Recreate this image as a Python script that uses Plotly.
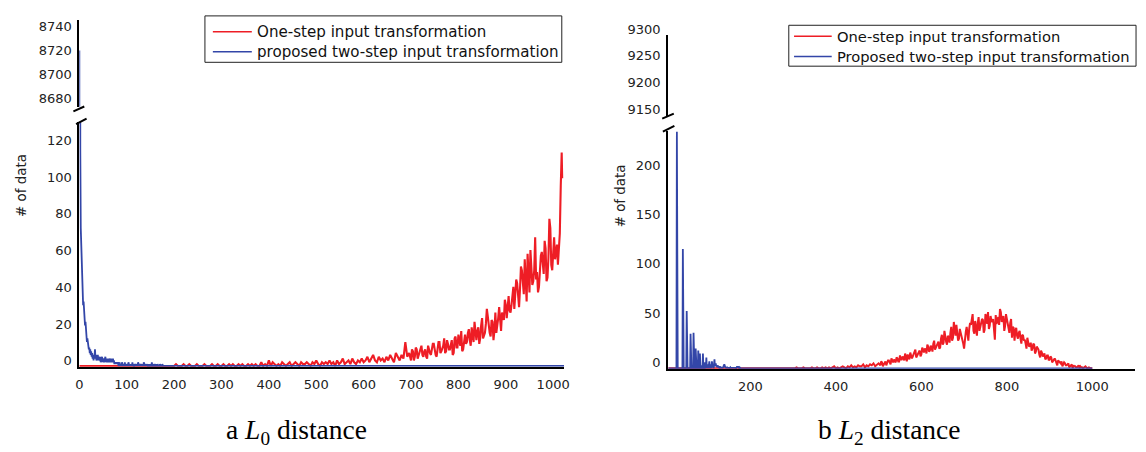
import plotly.graph_objects as go

W, H = 1146, 452
RED = "#EE1D25"
BLUE = "#3346A8"

# ---------------- (a) L0 distance ----------------
# red series: main samples every 4 units, plus extra samples in the dense right part
l0_red_x_main = list(range(0, 1020, 4)) + [1018, 1019]
l0_red_main = [
    0, 0, 0, 0, 0, 0, 0, 0, 0, 0,
    0, 0, 0, 0, 0, 0, 0, 0, 0, 0,
    0, 0, 0, 0, 0, 0, 0, 0, 0, 0,
    0, 0, 0, 0, 0, 0, 0, 0, 0, 0,
    0, 0, 0, 0, 0, 0, 0, 0, 0, 0,
    0, 1, 0, 0, 0, 1, 0, 0, 1, 0,
    0, 0, 1, 0, 0, 0, 1, 0, 0, 0,
    1, 0, 0, 1, 0, 0, 1, 0, 0, 1,
    0, 1, 0, 0, 1, 0, 1, 0, 0, 1,
    0, 1, 0, 1, 0, 0, 2, 0, 1, 0,
    3, 0, 2, 1, 0, 1, 0, 2, 1, 0,
    1, 2, 0, 1, 2, 1, 0, 2, 1, 1,
    2, 1, 0, 2, 1, 3, 1, 0, 2, 1,
    2, 1, 3, 1, 2, 0, 3, 1, 2, 4,
    1, 2, 3, 1, 4, 2, 1, 3, 2, 4,
    2, 3, 5, 2, 4, 6, 3, 2, 5, 3,
    4, 2, 5, 3, 6, 4, 2, 7, 5, 3,
    6, 4, 13, 5, 7, 3, 8, 5, 9, 6,
    10, 6, 8, 5, 11, 7, 9, 12, 6, 10,
    13, 8, 11, 7, 14, 9, 12, 6, 15, 10,
    17, 11, 8, 15, 12, 18, 14, 21, 13, 16,
    19, 12, 22, 15, 18, 31, 20, 16, 24, 19,
    18, 26, 22, 29, 25, 33, 35, 30, 33, 43,
    38, 45, 32, 54, 46, 58, 35, 50, 63, 44,
    52, 47, 40, 56, 62, 50, 64, 48, 80, 55,
    66, 58, 66, 64, 98,
    116, 102,
]
l0_red_x_extra = list(range(702, 1015, 4))
l0_red_extra = [
    9, 3, 10, 4, 7, 11, 5, 9, 4, 8,
    6, 12, 8, 5, 13, 7, 10, 15, 8, 12,
    9, 14, 7, 16, 10, 12, 19, 9, 17, 13,
    20, 11, 18, 24, 14, 21, 15, 26, 17, 23,
    27, 18, 25, 14, 29, 21, 32, 19, 27, 36,
    26, 38, 29, 41, 31, 47, 37, 42, 52, 39,
    48, 61, 40, 56, 46, 70, 51, 43, 60, 54,
    68, 46, 59, 75, 52, 70, 61, 55, 72,
]

l0_blue_x = list(range(0, 180)) + [1023]
l0_blue = [
    8724,
    190, 118, 75, 64, 70, 45, 48, 33, 35, 27,
    29, 22, 24, 17, 18, 13, 15, 11, 12, 9,
    10, 7, 9, 6, 8, 5, 7, 4, 6, 3,
    6, 5, 9, 4, 6, 3, 5, 4, 6, 3,
    5, 4, 3, 5, 2, 4, 3, 5, 2, 4,
    3, 2, 4, 3, 5, 2, 3, 4, 2, 3,
    2, 4, 2, 3, 4, 2, 3, 2, 4, 2,
    4, 2, 3, 1, 2, 1, 2, 1, 2, 1,
    2, 1, 0, 1, 2, 0, 1, 1, 0, 2,
    1, 0, 1, 1, 0, 2, 0, 1, 1, 0,
    1, 0, 1, 2, 0, 1, 0, 1, 0, 1,
    0, 2, 0, 1, 0, 0, 1, 0, 1, 0,
    0, 1, 0, 2, 0, 0, 1, 0, 0, 1,
    0, 0, 1, 0, 0, 2, 0, 0, 1, 0,
    0, 1, 0, 0, 0, 1, 0, 0, 1, 0,
    0, 0, 2, 0, 0, 0, 1, 0, 0, 0,
    1, 0, 0, 0, 1, 0, 0, 0, 0, 1,
    0, 0, 0, 0, 1, 0, 0, 0, 0,
    0,
]
l0_xticks = [0, 100, 200, 300, 400, 500, 600, 700, 800, 900, 1000]
l0_low_yticks = [0, 20, 40, 60, 80, 100, 120]
l0_high_yticks = [8680, 8700, 8720, 8740]

# ---------------- (b) L2 distance ----------------
l2_red_x_main = [8] + list(range(300, 1001, 4))
l2_red_main = [0] + [
    0, 0, 1, 0, 0, 0, 1, 0, 0, 0,
    0, 1, 0, 0, 1, 0, 0, 1, 0, 1,
    0, 1, 0, 1, 2, 0, 1, 0, 1, 2,
    1, 0, 2, 1, 3, 1, 2, 1, 3, 2,
    2, 4, 1, 3, 2, 4, 3, 5, 2, 4,
    5, 3, 6, 4, 7, 5, 8, 4, 7, 9,
    6, 10, 7, 9, 12, 8, 11, 14, 9, 13,
    12, 16, 11, 15, 18, 14, 17, 20, 15, 22,
    18, 21, 25, 19, 23, 27, 21, 34, 26, 29,
    24, 31, 36, 28, 47, 33, 38, 30, 36, 29,
    20, 37, 34, 40, 44, 55, 35, 41, 46, 38,
    44, 49, 39, 52, 57, 43, 48, 50, 29, 45,
    52, 60, 47, 53, 43, 49, 40, 46, 31, 41,
    38, 33, 36, 30, 34, 28, 25, 31, 22, 26,
    20, 24, 17, 21, 14, 18, 12, 15, 10, 13,
    9, 11, 7, 10, 6, 8, 5, 7, 4, 5,
    3, 5, 2, 4, 3, 2, 1, 3, 2, 1,
    1, 2, 0, 1, 0, 0,
]
l2_red_x_extra = list(range(502, 983, 4))
l2_red_extra = [
    4, 7, 2, 6, 3, 8, 5, 10, 6, 8,
    11, 7, 13, 9, 10, 15, 7, 12, 16, 10,
    14, 19, 13, 17, 12, 21, 16, 19, 24, 17,
    23, 17, 28, 22, 25, 20, 30, 24, 38, 27,
    33, 26, 42, 31, 39, 44, 28, 40, 33, 25,
    31, 42, 28, 46, 51, 38, 48, 33, 52, 42,
    50, 36, 55, 45, 40, 53, 47, 38, 54, 49,
    44, 57, 51, 38, 55, 46, 36, 50, 42, 28,
    41, 30, 38, 25, 33, 29, 20, 27, 23, 18,
    25, 15, 22, 19, 11, 16, 14, 9, 13, 8,
    12, 6, 9, 8, 3, 7, 5, 2, 6, 3,
    4, 1, 3, 0, 2, 1, 2, 0, 1, 0,
    1,
]

l2_blue_x = list(range(8, 181)) + [1000]
l2_blue = [
    0, 0, 0, 0, 0, 0, 0, 0, 0, 0,
    0, 0, 0, 0, 0, 0, 0, 0, 0, 0,
    240, 0, 0, 0, 0, 0, 0, 0, 0, 0,
    0, 0, 0, 0, 121, 0, 0, 0, 0, 0,
    0, 0, 0, 58, 0, 0, 0, 0, 0, 0,
    0, 0, 35, 0, 0, 0, 0, 0, 0, 36,
    0, 0, 0, 0, 20, 0, 0, 0, 0, 0,
    18, 0, 0, 0, 15, 0, 0, 3, 0, 0,
    0, 15, 0, 2, 0, 0, 6, 0, 2, 11,
    0, 3, 0, 4, 0, 2, 7, 0, 3, 2,
    4, 0, 7, 3, 2, 4, 0, 3, 9, 2,
    4, 5, 2, 3, 1, 2, 3, 1, 2, 1,
    0, 1, 2, 0, 1, 0, 1, 0, 2, 1,
    3, 4, 2, 1, 0, 1, 0, 1, 1, 0,
    1, 0, 1, 0, 1, 1, 0, 1, 0, 1,
    0, 1, 0, 1, 0, 1, 0, 1, 0, 0,
    1, 2, 1, 2, 1, 0, 0, 1, 0, 0,
    0, 0, 0,
    0,
]
l2_xticks = [200, 400, 600, 800, 1000]
l2_low_yticks = [0, 50, 100, 150, 200]
l2_high_yticks = [9150, 9200, 9250, 9300]

NAME_RED = "One-step input transformation"
NAME_BLUE_A = "proposed two-step input transformation"
NAME_BLUE_B = "Proposed two-step input transformation"


def merge(xa, ya, xb, yb):
    pts = sorted(zip(xa + xb, ya + yb))
    return [p[0] for p in pts], [p[1] for p in pts]


l0_red_x, l0_red = merge(l0_red_x_main, l0_red_main, l0_red_x_extra, l0_red_extra)
l2_red_x, l2_red = merge(l2_red_x_main, l2_red_main, l2_red_x_extra, l2_red_extra)


def px(x):
    return x / W


def py(y):
    return 1 - y / H


fig = go.Figure()

# left panel, lower and upper parts
for ya in ("y", "y3"):
    fig.add_trace(go.Scatter(x=l0_red_x, y=l0_red, xaxis="x", yaxis=ya, mode="lines",
                             line=dict(color=RED, width=2.1), name=NAME_RED, showlegend=False))
    fig.add_trace(go.Scatter(x=l0_blue_x, y=l0_blue, xaxis="x", yaxis=ya, mode="lines",
                             line=dict(color=BLUE, width=1.8), name=NAME_BLUE_A, showlegend=False))

# right panel, lower and upper parts
for ya in ("y2", "y4"):
    fig.add_trace(go.Scatter(x=l2_red_x, y=l2_red, xaxis="x2", yaxis=ya, mode="lines",
                             line=dict(color=RED, width=2.0), name=NAME_RED, showlegend=False))
    fig.add_trace(go.Scatter(x=l2_blue_x, y=l2_blue, xaxis="x2", yaxis=ya, mode="lines",
                             line=dict(color=BLUE, width=1.8), name=NAME_BLUE_B, showlegend=False))

tickfont = dict(family="DejaVu Sans", size=13, color="#222")
common = dict(showgrid=False, zeroline=False, ticks="", showline=True,
              linecolor="black", tickfont=tickfont, fixedrange=True)

fig.update_layout(
    width=W, height=H,
    margin=dict(l=0, r=0, t=0, b=0),
    paper_bgcolor="white", plot_bgcolor="white",
    showlegend=False,
    xaxis=dict(domain=[px(76), px(565)], range=[0, 1023], anchor="y",
               tickvals=l0_xticks, linewidth=1.6, ticklabelstandoff=5, **common),
    yaxis=dict(domain=[py(366), py(113)], range=[-0.5, 132.5], anchor="x",
               tickvals=l0_low_yticks, linewidth=2, ticklabelshift=-5, ticklabelstandoff=3, **common),
    yaxis3=dict(domain=[py(97), py(7)], range=[8676.8, 8749.7], anchor="x",
                tickvals=l0_high_yticks, linewidth=2, ticklabelshift=-5, ticklabelstandoff=3, **common),
    xaxis2=dict(domain=[px(670), px(1141)], range=[7.6, 1100], anchor="y2",
                tickvals=l2_xticks, linewidth=1.6, ticklabelstandoff=5, **common),
    yaxis2=dict(domain=[py(368), py(122)], range=[-0.5, 240.7], anchor="x2",
                tickvals=l2_low_yticks, linewidth=2, ticklabelshift=-6, ticklabelstandoff=3, **common),
    yaxis4=dict(domain=[py(108), py(23)], range=[9146, 9300], anchor="x2",
                tickvals=l2_high_yticks, linewidth=2, ticklabelshift=-6, ticklabelstandoff=3, **common),
)

# axis-break marks
breaks = [
    ((70, 101.7), (81, 96.7)), ((72.7, 115), (83.3, 109.3)),
    ((664, 109.3), (675.7, 104)), ((664.7, 122.7), (676.3, 116.7)),
]
for (x0, y0), (x1, y1) in breaks:
    fig.add_shape(type="line", xref="paper", yref="paper",
                  x0=px(x0), y0=py(y0), x1=px(x1), y1=py(y1),
                  line=dict(color="black", width=2))

# legends (boxed keys)
legends = [
    # box (x0, y0, x1, y1), key line x0, x1, text x, rows y, labels, font size
    ((202.7, 3, 562.7, 51), 210.7, 250, 253, (19.3, 40), (NAME_RED, NAME_BLUE_A), 15.1),
    ((791.7, 12.7, 1142, 55), 797, 835, 838.5, (24, 45), (NAME_RED, NAME_BLUE_B), 14.7),
]
for (bx0, by0, bx1, by1), lx0, lx1, tx, rows, labels, fs in legends:
    fig.add_shape(type="rect", xref="paper", yref="paper",
                  x0=px(bx0), y0=py(by1), x1=px(bx1), y1=py(by0),
                  line=dict(color="#222", width=1), fillcolor="white", layer="above")
    for ry, label, col in zip(rows, labels, (RED, BLUE)):
        fig.add_shape(type="line", xref="paper", yref="paper",
                      x0=px(lx0), y0=py(ry), x1=px(lx1), y1=py(ry),
                      line=dict(color=col, width=1.5), layer="above")
        fig.add_annotation(x=px(tx), y=py(ry), xref="paper", yref="paper",
                           xanchor="left", yanchor="middle", text=label,
                           showarrow=False,
                           font=dict(family="DejaVu Sans", size=fs, color="#111"))

# axis titles
for (cx, cy) in [(17, 178), (622, 189)]:
    fig.add_annotation(x=px(cx), y=py(cy), xref="paper", yref="paper",
                       xanchor="center", yanchor="middle",
                       text="# of data", textangle=-90, showarrow=False,
                       font=dict(family="DejaVu Sans", size=13.4, color="#222"))

# captions
for (cx, txt) in [(295, "a <i>L</i><sub>0</sub> distance"), (893, "b <i>L</i><sub>2</sub> distance")]:
    fig.add_annotation(x=px(cx), y=py(433), xref="paper", yref="paper",
                       xanchor="center", yanchor="middle",
                       text=txt, showarrow=False,
                       font=dict(family="Liberation Serif", size=27.5, color="black"))

fig.write_html("out.html")
